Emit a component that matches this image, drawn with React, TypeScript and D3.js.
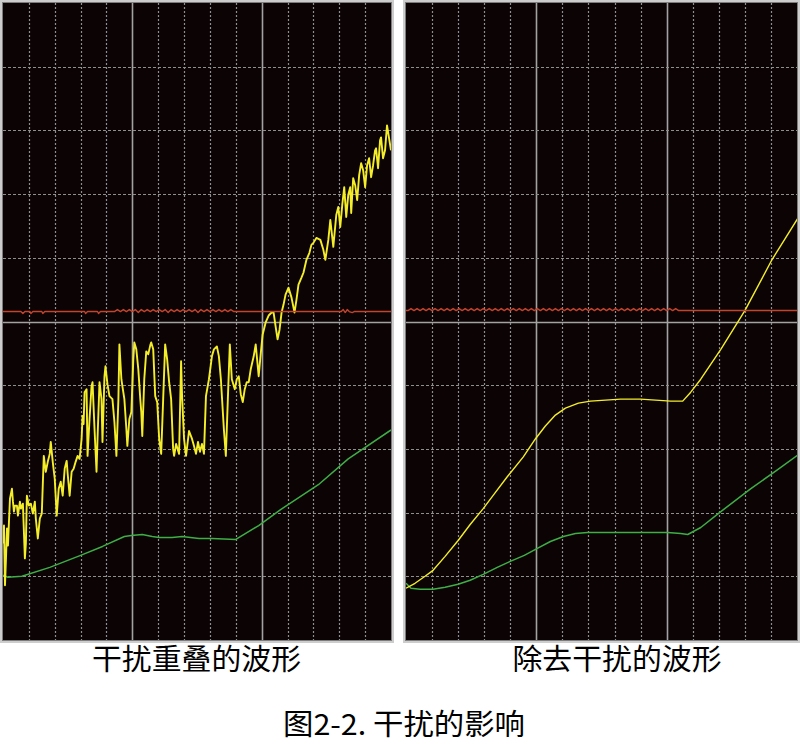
import React from 'react';
import * as d3 from 'd3';

// Oscilloscope units: x in samples (26 samples / division, 15 divisions),
// y in ADC counts (64 counts / division, ±5 divisions around the centre line).
const SAMPLES = 390;
const COUNTS = 320;
const DIV_X = 26;
const DIV_Y = 64;
const COLS = 15;
const ROWS = 10;

type Pt = [number, number];

// ---------- Left panel: 干扰重叠的波形 ----------
const leftYellow: Pt[] = [
  [0,-223],[1,-205],[2,-265],[3,-238],[4,-208],[5,-225],[6,-201],[7,-178],[9,-168],[10,-181],
  [11,-191],[12,-185],[14,-185],[15,-195],[17,-181],[18,-188],[20,-183],[22,-238],[23,-223],[24,-175],
  [26,-185],[28,-183],[30,-193],[32,-181],[33,-198],[35,-218],[37,-198],[39,-193],[41,-135],[43,-151],
  [45,-141],[47,-133],[48,-121],[50,-141],[52,-158],[54,-195],[56,-168],[58,-161],[60,-175],[62,-148],
  [64,-140],[65,-153],[67,-175],[69,-151],[71,-148],[73,-141],[75,-135],[77,-138],[79,-118],[80,-95],
  [81,-103],[82,-71],[84,-68],[85,-135],[87,-98],[89,-65],[90,-61],[92,-108],[94,-151],[95,-118],
  [97,-61],[99,-78],[100,-121],[102,-55],[103,-45],[105,-63],[107,-75],[110,-78],[112,-101],[114,-135],
  [116,-78],[117,-23],[119,-58],[120,-65],[122,-78],[124,-108],[125,-125],[127,-98],[129,-91],[131,-38],
  [132,-21],[134,-28],[136,-48],[138,-78],[139,-91],[140,-115],[142,-58],[144,-30],[146,-33],[148,-24],
  [149,-21],[151,-28],[153,-75],[155,-81],[157,-118],[159,-133],[161,-78],[163,-23],[165,-38],[167,-61],
  [169,-78],[171,-128],[172,-135],[174,-123],[177,-133],[179,-40],[180,-75],[182,-118],[184,-135],[187,-110],
  [190,-118],[192,-125],[194,-133],[196,-121],[198,-131],[200,-123],[202,-133],[204,-75],[207,-58],[210,-35],
  [212,-28],[215,-25],[217,-35],[219,-58],[222,-108],[224,-135],[226,-78],[228,-23],[230,-58],[233,-68],
  [235,-58],[237,-55],[239,-73],[241,-81],[243,-68],[245,-61],[247,-61],[249,-48],[252,-35],[254,-23],
  [257,-55],[259,-33],[261,-13],[264,-1],[267,6],[270,9],[272,9],[274,-5],[276,-18],[278,-8],
  [280,9],[282,17],[284,27],[287,34],[290,24],[293,9],[295,22],[297,37],[300,44],[302,49],
  [305,62],[308,69],[310,77],[312,79],[315,84],[319,82],[322,72],[324,62],[327,82],[329,102],
  [332,75],[335,107],[337,115],[339,95],[341,117],[343,135],[345,105],[347,127],[349,135],[350,109],
  [352,144],[354,137],[356,122],[358,147],[360,159],[362,152],[364,135],[366,157],[368,164],[370,145],
  [372,157],[374,172],[375,174],[377,154],[379,182],[380,185],[382,164],[384,172],[386,197],[390,172],
];

const leftGreen: Pt[] = [
  [0,-255],[5,-257],[19,-256],[47,-247],[78,-235],[100,-226],[122,-216],[129,-215],[140,-214],[150,-216],
  [157,-217],[170,-217],[180,-216],[197,-218],[210,-218],[234,-219],[257,-205],[279,-189],[317,-164],
  [347,-138],[390,-109],
];

const leftRedPre: Pt[] = [
  [0,10],[18,10],[20,8],[22,10],[27,10],[28,8],[30,10],[39,10],[40,8],[42,10],
  [82,10],[83,8],[85,10],[95,10],[96,8],[98,10],
];
const leftRedRippleStart = 112;
const leftRedRippleStep = 3;
const leftRedRipple = [
  10,12,10,12,10,12,10,12,9,12,
  10,12,10,12,10,12,10,12,9,12,
  10,12,10,12,10,12,10,12,9,12,
  10,12,10,12,10,12,10,12,10,12,10,
];
const leftRedPost: Pt[] = [
  [236,10],[340,10],[342,12],[344,9],[346,12],[348,10],[351,9],[353,10],[390,10],
];

// ---------- Right panel: 除去干扰的波形 ----------
const rightYellow: Pt[] = [
  [0,-268],[9,-263],[19,-256],[27,-250],[39,-236],[52,-220],[64,-204],[77,-188],[89,-172],[101,-156],
  [117,-136],[129,-118],[139,-105],[149,-94],[159,-87],[172,-82],[184,-80],[199,-79],[214,-78],[234,-78],
  [249,-79],[264,-80],[276,-80],[284,-71],[294,-58],[314,-28],[338,11],[365,62],[391,104],
];

const rightGreen: Pt[] = [
  [0,-263],[5,-268],[14,-269],[27,-269],[39,-267],[52,-264],[64,-260],[77,-254],[91,-247],[104,-241],
  [118,-235],[131,-228],[144,-221],[157,-216],[169,-213],[181,-212],[214,-212],[244,-212],[261,-212],
  [274,-213],[281,-214],[294,-207],[314,-191],[344,-168],[369,-150],[391,-134],
];

const rightRedPre: Pt[] = [[0,11]];
const rightRedRippleStart = 2;
const rightRedRippleStep = 3;
const rightRedRipple = [
  11,13,11,13,11,13,11,13,11,13,
  11,13,11,13,11,13,11,13,11,13,
  11,13,11,13,11,13,11,13,11,13,
  11,13,11,13,11,13,11,13,11,13,
  11,13,11,13,11,13,11,13,11,13,
  11,13,11,13,11,13,11,13,11,13,
  11,13,11,13,11,13,11,13,11,13,
  11,13,11,13,11,13,11,13,11,13,
  11,13,11,13,11,13,11,13,11,13,
  11,
];
const rightRedPost: Pt[] = [[274,11],[391,11]];

const labelLeft = '干扰重叠的波形';
const labelRight = '除去干扰的波形';
const caption = '图2-2. 干扰的影响';

function rippleSeries(pre: Pt[], start: number, step: number, vals: number[], post: Pt[]): Pt[] {
  return [...pre, ...vals.map((v, i) => [start + i * step, v] as Pt), ...post];
}

const leftRed = rippleSeries(leftRedPre, leftRedRippleStart, leftRedRippleStep, leftRedRipple, leftRedPost);
const rightRed = rippleSeries(rightRedPre, rightRedRippleStart, rightRedRippleStep, rightRedRipple, rightRedPost);

const BG = '#0c0305';
const GRID = '#8e8e8e';
const GRID_SOLID = '#a2a2a2';
const YELLOW = '#f4ee2a';
const GREEN = '#3fae45';
const RED = '#c4432c';

interface PanelProps {
  id: string;
  x0: number; x1: number; y0: number; y1: number;
  yellow: Pt[]; green: Pt[]; red: Pt[];
  yellowWidth: number;
}

function Panel({ id, x0, x1, y0, y1, yellow, green, red, yellowWidth }: PanelProps) {
  const x = d3.scaleLinear().domain([0, SAMPLES]).range([x0, x1]);
  const y = d3.scaleLinear().domain([-COUNTS, COUNTS]).range([y1, y0]);
  const line = d3.line<Pt>().x(d => x(d[0])).y(d => y(d[1]));
  const cols = d3.range(1, COLS);
  const rows = d3.range(-ROWS / 2 + 1, ROWS / 2);
  return (
    <g>
      <defs>
        <clipPath id={id}>
          <rect x={x0} y={y0} width={x1 - x0} height={y1 - y0} />
        </clipPath>
      </defs>
      <rect x={x0 - 3} y={y0 - 3} width={x1 - x0 + 6} height={y1 - y0 + 6} fill="#cdcdcd" />
      <rect x={x0 - 0.5} y={y0 - 0.5} width={x1 - x0 + 1} height={y1 - y0 + 1} fill={BG} stroke="#7c7c7c" strokeWidth={1} />
      <g clipPath={`url(#${id})`}>
        {cols.map(i => {
          const solid = i === 5 || i === 10;
          const px = Math.round(x(i * DIV_X)) + 0.5;
          return (
            <line key={'v' + i} x1={px} x2={px} y1={y0} y2={y1}
              stroke={solid ? GRID_SOLID : GRID}
              strokeWidth={solid ? 1.6 : 1.2}
              strokeDasharray={solid ? undefined : '2,2'} />
          );
        })}
        {rows.map(j => {
          const solid = j === 0;
          const py = Math.round(y(j * DIV_Y)) + 0.5;
          return (
            <line key={'h' + j} x1={x0} x2={x1} y1={py} y2={py}
              stroke={solid ? GRID_SOLID : GRID}
              strokeWidth={solid ? 1.6 : 1.2}
              strokeDasharray={solid ? undefined : '3,2'} />
          );
        })}
        <path d={line(green) || ''} fill="none" stroke={GREEN} strokeWidth={1.5} strokeLinejoin="round" />
        <path d={line(yellow) || ''} fill="none" stroke={YELLOW} strokeWidth={yellowWidth} strokeLinejoin="round" />
        <path d={line(red) || ''} fill="none" stroke={RED} strokeWidth={1.4} strokeLinejoin="round" />
      </g>
    </g>
  );
}

export default function App() {
  const font = "'Noto Sans CJK SC', 'Noto Sans', sans-serif";
  return (
    <svg width={800} height={744} style={{ position: 'absolute', left: 0, top: 0, display: 'block' }}>
      <rect x={0} y={0} width={800} height={744} fill="#ffffff" />
      <Panel id="clipL" x0={3} x1={391} y0={3} y1={640}
        yellow={leftYellow} green={leftGreen} red={leftRed} yellowWidth={1.9} />
      <Panel id="clipR" x0={406} x1={797} y0={3} y1={640}
        yellow={rightYellow} green={rightGreen} red={rightRed} yellowWidth={1.4} />
      <text x={196.5} y={657} fontFamily={font} fontSize={29} textAnchor="middle" dominantBaseline="central"
        textLength={209} lengthAdjust="spacingAndGlyphs" fill="#000">{labelLeft}</text>
      <text x={617} y={657} fontFamily={font} fontSize={29} textAnchor="middle" dominantBaseline="central"
        textLength={209} lengthAdjust="spacingAndGlyphs" fill="#000">{labelRight}</text>
      <text x={404} y={722} fontFamily={font} fontSize={29} textAnchor="middle" dominantBaseline="central"
        textLength={242} lengthAdjust="spacingAndGlyphs" fill="#000">{caption}</text>
    </svg>
  );
}
